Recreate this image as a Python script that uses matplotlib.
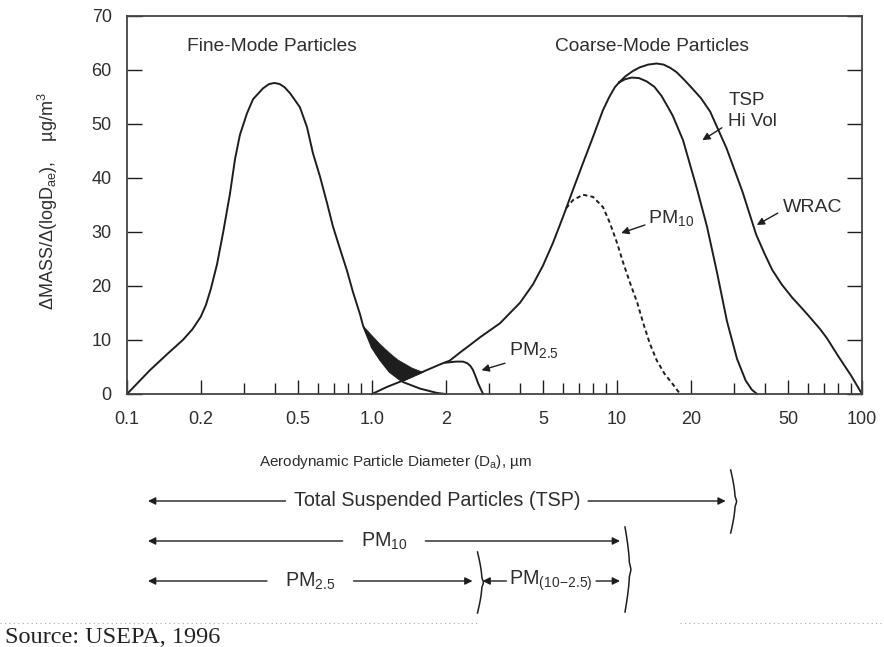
import numpy as np
import matplotlib
matplotlib.use('Agg')
import matplotlib.pyplot as plt
from matplotlib.lines import Line2D
from matplotlib.ticker import NullFormatter

plt.rcParams['font.family'] = ['Liberation Sans', 'DejaVu Sans']
plt.rcParams['mathtext.fontset'] = 'custom'
plt.rcParams['mathtext.rm'] = 'Liberation Sans'
plt.rcParams['mathtext.it'] = 'Liberation Sans:italic'

# ---- data (diameter in um, mass in ug/m3) ----
fine_d = [0.1, 0.124, 0.146, 0.169, 0.185, 0.2, 0.21, 0.22, 0.233, 0.247, 0.263, 0.276,
          0.289, 0.309, 0.327, 0.359, 0.38, 0.40, 0.42, 0.44, 0.463, 0.508, 0.543, 0.574,
          0.614, 0.655, 0.693, 0.74, 0.791, 0.836, 0.893, 0.92, 1.0, 1.08, 1.18, 1.34,
          1.57, 1.84, 2.0]
fine_mass = [0, 4.4, 7.4, 10.0, 12.0, 14.3, 16.5, 19.5, 24, 30, 37, 43.5,
             48, 52, 54.6, 56.6, 57.4, 57.6, 57.4, 56.8, 55.7, 53.1, 49.4, 44.6,
             40.2, 35.4, 31.0, 26.9, 22.8, 18.9, 14.8, 12.6, 8.6, 6.3, 4.1, 2.2,
             1.0, 0.2, 0]

# rising coarse-mode branch shared by TSP, WRAC and PM10
coarse_d = [1.0, 1.15, 1.34, 1.45, 1.61, 1.90, 2.08, 2.29, 2.5, 2.76, 3.33, 4.02, 4.54,
            4.99, 5.48, 6.02, 6.61, 7.27, 7.98, 8.77, 9.3, 9.8, 10.2]
coarse_mass = [0, 1.3, 2.5, 3.2, 4.1, 5.5, 6.2, 7.7, 9.0, 10.5, 13.1, 16.9, 20.3,
               23.8, 28, 32.8, 37.8, 42.8, 47.6, 52.6, 55.0, 56.8, 57.7]

tsp_d = [10.8, 11.5, 12.3, 13.2, 14.2, 15.2, 16.2, 16.9, 18.6, 21.2, 23.3, 25.6, 28.1,
         30.9, 33.5, 35.5, 37.3]
tsp_mass = [58.3, 58.6, 58.5, 57.9, 56.9, 55.2, 53.0, 51.5, 47, 38, 31, 22.5, 13.5,
            6.5, 2.5, 0.8, 0]

wrac_d = [10.8, 11.6, 12.4, 13.4, 14.5, 15.5, 16.5, 17.5, 18.7, 19.9, 22, 24, 28, 32.5,
          37, 40, 43, 47, 52, 55, 60, 67.5, 72, 80, 90, 100]
wrac_mass = [58.8, 59.8, 60.5, 61.0, 61.2, 61.0, 60.4, 59.6, 58.3, 57.0, 54.8, 52.3,
             45.5, 37.5, 29.5, 26.0, 23.0, 20.3, 17.8, 16.6, 14.7, 12.0, 10.3, 7.0, 3.5, 0]

pm10_d = [6.2, 6.61, 7.27, 7.98, 8.77, 9.35, 10.0, 10.6, 11.3, 12.1, 12.8, 13.6, 14.5,
          15.6, 16.9, 18.1]
pm10_mass = [34.4, 35.9, 36.9, 36.5, 34.6, 31.7, 28, 24.3, 20.6, 16.9, 13.1, 9.4, 6.3,
             3.8, 1.8, 0]

pm25_d = [2.0, 2.2, 2.35, 2.45, 2.52, 2.58, 2.65, 2.71, 2.78, 2.84]
pm25_mass = [5.8, 6.0, 6.0, 5.7, 5.2, 4.5, 3.2, 2.0, 0.9, 0]

# black intermodal overlap region
overlap_d = [0.92, 1.0, 1.08, 1.18, 1.27, 1.34, 1.45, 1.61]
overlap_top = [12.6, 10.8, 9.2, 7.6, 6.4, 5.8, 4.9, 4.1]
overlap_bottom = [12.6, 8.6, 6.3, 4.1, 3.0, 2.5, 3.2, 4.1]

x_ticks = [0.1, 0.2, 0.5, 1.0, 2, 5, 10, 20, 50, 100]
x_tick_labels = ['0.1', '0.2', '0.5', '1.0', '2', '5', '10', '20', '50', '100']
x_minor = [0.3, 0.4, 0.6, 0.7, 0.8, 0.9, 3, 4, 6, 7, 8, 9, 30, 40, 60, 70, 80, 90]
y_ticks = [0, 10, 20, 30, 40, 50, 60, 70]

range_names = ['Total Suspended Particles (TSP)', 'PM$_{10}$', 'PM$_{2.5}$',
               r'PM$\mathregular{_{(10\!-\!2.5)}}$']
range_lo = [0.1, 0.1, 0.1, 2.5]
range_hi = [27, 10, 2.5, 10]

ink = '#1e1e1e'
txt = '#2e2e2e'

fig = plt.figure(figsize=(8.84, 6.47), dpi=100)
W, H = 884, 647
ax = fig.add_axes([127 / W, 1 - 394 / H, 735 / W, 378 / H])
ax.set_xscale('log')
ax.set_xlim(0.1, 100)
ax.set_ylim(0, 70)

lw = 1.4
ax.plot(fine_d, fine_mass, color=ink, lw=lw, clip_on=False)
ax.plot(coarse_d, coarse_mass, color=ink, lw=lw, clip_on=False)
ax.plot(coarse_d[-1:] + tsp_d, coarse_mass[-1:] + tsp_mass, color=ink, lw=lw, clip_on=False)
ax.plot(coarse_d[-1:] + wrac_d, coarse_mass[-1:] + wrac_mass, color=ink, lw=lw, clip_on=False)
ax.plot(pm10_d, pm10_mass, color=ink, lw=lw, ls=(0, (2.2, 1.6)), clip_on=False)
ax.plot(pm25_d, pm25_mass, color=ink, lw=lw, clip_on=False)
ax.fill_between(overlap_d, overlap_bottom, overlap_top, color=ink, lw=0.5, edgecolor=ink)

for s in ax.spines.values():
    s.set_color('#444444')
    s.set_linewidth(1.3)

ax.set_xticks(x_ticks)
ax.set_xticklabels(x_tick_labels)
ax.set_xticks(x_minor, minor=True)
ax.xaxis.set_minor_formatter(NullFormatter())
ax.tick_params(axis='x', which='both', direction='in', top=False, pad=12,
               labelsize=13, labelcolor=txt, color=ink, width=1)
ax.tick_params(axis='x', which='major', length=10)
ax.tick_params(axis='x', which='minor', length=8)
ax.set_yticks(y_ticks)
ax.tick_params(axis='y', direction='in', right=True, length=11, width=1, pad=11,
               labelsize=13, labelcolor=txt, color=ink)

ax.text(0.391, 64.3, 'Fine-Mode Particles', ha='center', va='center', fontsize=13.8, color=txt)
ax.text(13.9, 64.3, 'Coarse-Mode Particles', ha='center', va='center', fontsize=13.8, color=txt)
ax.text(28.5, 54.4, 'TSP', ha='left', va='center', fontsize=13.5, color=txt)
ax.text(28.5, 50.4, 'Hi Vol', ha='left', va='center', fontsize=13.5, color=txt)
ax.text(47.7, 34.6, 'WRAC', ha='left', va='center', fontsize=14, color=txt)
ax.text(13.4, 32.6, 'PM$_{10}$', ha='left', va='center', fontsize=14, color=txt)
ax.text(3.64, 8.1, 'PM$_{2.5}$', ha='left', va='center', fontsize=14, color=txt)

arrow_kw = dict(arrowstyle='-|>', color=ink, lw=1.0, mutation_scale=11, shrinkA=0, shrinkB=0)
for tail, head in [((26.8, 49.3), (22.3, 47.0)), ((45.3, 33.5), (37.2, 31.3)),
                   ((13.0, 31.3), (10.4, 29.8)), ((3.49, 5.7), (2.8, 4.4))]:
    ax.annotate('', xy=head, xytext=tail, arrowprops=arrow_kw)

ax.text((48 - 127) / 735, (394 - 201) / 378, 'ΔMASS/Δ(logD$\\mathregular{_{ae}}$),    µg/m$^3$',
        transform=ax.transAxes, rotation=90, ha='center', va='center', fontsize=13, color=txt)
ax.text((395 - 127) / 735, (394 - 462) / 378, 'Aerodynamic Particle Diameter (D$\\mathregular{_a}$), µm',
        transform=ax.transAxes, ha='center', va='center', fontsize=11, color=txt)

# ---- size-range arrows underneath ----
fig.canvas.draw()
ren = fig.canvas.get_renderer()


def xpix(d):
    return ax.transData.transform((d, 1))[0]


row_y = [501, 541, 581, 581]
left_off = [21, 21, 21, 13]
gaps = [8, 18, 18, 3]
brace_span = [(470, 533), (527, 612), (552, 613)]

for i, name in enumerate(range_names):
    y = H - row_y[i]
    xl = xpix(range_lo[i]) + left_off[i]
    xr = xpix(range_hi[i]) + 3
    xc = (xl + xr) / 2
    t = ax.annotate(name, xy=(xc, y), xycoords='figure pixels', ha='center', va='center',
                    fontsize=14.2, color=txt, annotation_clip=False)
    w = t.get_window_extent(ren).width
    ax.annotate('', xy=(xl, y), xycoords='figure pixels',
                xytext=(xc - w / 2 - gaps[i], y), textcoords='figure pixels',
                arrowprops=arrow_kw, annotation_clip=False)
    ax.annotate('', xy=(xr, y), xycoords='figure pixels',
                xytext=(xc + w / 2 + gaps[i], y), textcoords='figure pixels',
                arrowprops=arrow_kw, annotation_clip=False)

tt = np.linspace(0, 1, 80)
for i in range(3):
    x0 = xpix(range_hi[i]) + 8
    top, bot = brace_span[i]
    bulge = 6 * (0.75 * np.sin(np.pi * tt) + 0.25 * np.clip(1 - np.abs(2 * tt - 1) * 6, 0, 1))
    xs = (x0 + bulge) / W
    ys = (H - (top + (bot - top) * tt)) / H
    fig.add_artist(Line2D(xs, ys, color=ink, lw=1.1, transform=fig.transFigure))

fig.add_artist(Line2D([0, 480 / W], [1 - 623 / H] * 2, color='#aaaaaa', lw=0.8,
                      ls=(0, (1, 3)), transform=fig.transFigure))
fig.add_artist(Line2D([680 / W, 1], [1 - 623 / H] * 2, color='#aaaaaa', lw=0.8,
                      ls=(0, (1, 3)), transform=fig.transFigure))
fig.text(5 / W, 1 - 643 / H, 'Source: USEPA, 1996', family='Liberation Serif',
         fontsize=17.5, color='#222222', va='baseline', ha='left')

fig.savefig('out.png', dpi=100)
